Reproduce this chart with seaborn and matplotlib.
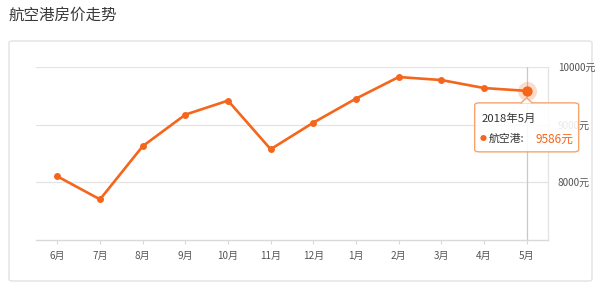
import matplotlib
matplotlib.use("Agg")
import matplotlib.pyplot as plt
import seaborn as sns
import pandas as pd
from matplotlib.patches import FancyBboxPatch, Polygon

months = ["6月", "7月", "8月", "9月", "10月", "11月", "12月", "1月", "2月", "3月", "4月", "5月"]
prices = [8104, 7704, 8626, 9174, 9417, 8574, 9035, 9452, 9826, 9774, 9635, 9586]
y_ticks = [8000, 9000, 10000]
y_tick_labels = ["8000元", "9000元", "10000元"]
series_name = "航空港"
title = "航空港房价走势"
tooltip_date = "2018年5月"

sns.set_theme(style="white")
plt.rcParams['font.family'] = ['Noto Sans CJK SC', 'DejaVu Sans']

ORANGE = "#f4661b"
W, H = 600, 287
fig = plt.figure(figsize=(6, 2.87), dpi=100)

# panel box
fig.add_artist(FancyBboxPatch((9 / W, 1 - 281 / H), (592 - 9) / W, (281 - 41) / H,
                              boxstyle="round,pad=0,rounding_size=0.006",
                              transform=fig.transFigure, facecolor="white",
                              edgecolor="#e2e2e2", linewidth=1.0, zorder=-10))
fig.text(8 / W, 1 - 15 / H, title, fontsize=11.2, color="#3a3a3a", va="center", ha="left")

ax = fig.add_axes([36 / W, 1 - 240 / H, (548 - 36) / W, (240 - 67) / H])
ax.set_facecolor("none")
df = pd.DataFrame({"month": months, "price": prices})
df["idx"] = range(len(df))
sns.lineplot(data=df, x="idx", y="price", ax=ax, color=ORANGE, linewidth=1.9,
             marker="o", markersize=5, markeredgewidth=0, zorder=5)

ax.set_xlim(-0.5, len(months) - 0.5)
ax.set_ylim(7000, 10000)
ax.set_xticks(range(len(months)))
ax.set_xticklabels(months)
ax.yaxis.tick_right()
ax.set_yticks(y_ticks)
ax.set_yticklabels(y_tick_labels)
ax.set_xlabel("")
ax.set_ylabel("")
for yv in y_ticks:
    ax.axhline(yv, color="#e3e3e3", linewidth=0.9, zorder=1)
for s in ["top", "left"]:
    ax.spines[s].set_visible(False)
ax.spines["bottom"].set_color("#d9d9d9")
ax.spines["bottom"].set_linewidth(1.0)
ax.spines["right"].set_color("#e3e3e3")
ax.spines["right"].set_linewidth(0.9)
ax.tick_params(axis="x", length=3, width=0.8, color="#d9d9d9", pad=5, labelsize=7.2, labelcolor="#555555", bottom=True)
ax.tick_params(axis="y", length=0, pad=7, labelsize=7.2, labelcolor="#555555")

# cursor line + highlight
last_i = len(months) - 1
ax.axvline(last_i, color="#c8c8c8", linewidth=0.9, zorder=2)
ax.scatter([last_i], [prices[-1]], s=190, color=ORANGE, alpha=0.22, linewidth=0, zorder=6)
ax.scatter([last_i], [prices[-1]], s=55, color=ORANGE, linewidth=0, zorder=7)

# tooltip
fig.canvas.draw()
px, py = ax.transData.transform((last_i, prices[-1]))
def F(dx, dy):
    return ((px + dx) / W, (py + dy) / H)
fig.add_artist(FancyBboxPatch(F(-52, -61), 104 / W, 49 / H, boxstyle="round,pad=0,rounding_size=0.008",
                              transform=fig.transFigure, facecolor=(1, 1, 1, 0.88),
                              edgecolor="#f6a36e", linewidth=1.0, zorder=10))
tri = Polygon([F(-6, -12.5), F(0, -7), F(6, -12.5)], closed=False, transform=fig.transFigure,
              facecolor="white", edgecolor="#f6a36e", linewidth=1.0, zorder=11)
fig.add_artist(tri)
fig.text(*F(-45, -28), tooltip_date, fontsize=8.2, color="#333333", ha="left", va="center", zorder=12)
fig.text(*F(-47, -48), "●", fontsize=5, color=ORANGE, ha="left", va="center", zorder=12)
fig.text(*F(-38, -48), series_name + ":", fontsize=7.8, color="#333333", ha="left", va="center", zorder=12)
fig.text(*F(47, -48), f"{prices[-1]}元", fontsize=8.5, color=ORANGE, ha="right", va="center", zorder=12)

fig.savefig("out.png", dpi=100)
